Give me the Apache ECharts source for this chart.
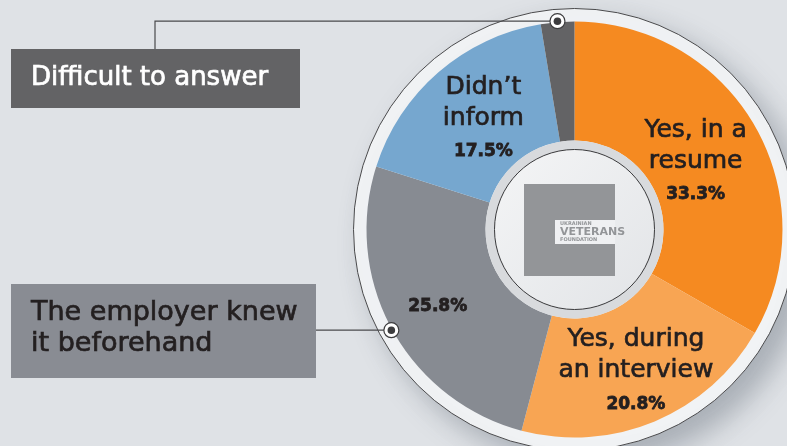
<!DOCTYPE html>
<html>
<head>
<meta charset="utf-8">
<script src="https://cdn.jsdelivr.net/npm/echarts@6/dist/echarts.min.js"></script>
<style>
  html, body { margin: 0; padding: 0; background: #dfe2e6; }
  #chart { width: 787px; height: 446px; }
</style>
</head>
<body>
<div id="chart"></div>
<script>
// Survey answers, clockwise from 12 o'clock
const categories = ['Yes, in a resume', 'Yes, during an interview', 'The employer knew it beforehand', 'Didn\u2019t inform', 'Difficult to answer'];
const values = [33.3, 20.8, 25.8, 17.5, 2.6];
const sliceNames = ['Yes, in a\nresume', 'Yes, during\nan interview', '', 'Didn\u2019t\ninform', null];
const sliceColors = ['#f58a21', '#f8a553', '#878b92', '#76a7cf', '#636365'];
// Nudges for the in-slice labels
const labelNudge = [[-10, 10], [3, 4], [-4, 4], [8, 6], [0, 0]];
// Answers called out in side boxes
const calloutIndex = [4, 2];
const calloutText = ['Difficult to answer', 'The employer knew\nit beforehand'];

const CX = 574.5, CY = 229.5, R_IN = 89, R_OUT = 208;
const total = values.reduce((a, b) => a + b, 0);

function midAngle(i) {
  let cum = 0;
  for (let k = 0; k < i; k++) cum += values[k];
  return ((cum + values[i] / 2) / total) * 2 * Math.PI;
}
function pointAt(i, r) {
  const a = midAngle(i);
  return [CX + r * Math.sin(a), CY - r * Math.cos(a)];
}

const chart = echarts.init(document.getElementById('chart'), null, { renderer: 'canvas' });

const TEXT = '#231f20';
const FONT = '"DejaVu Sans", sans-serif';

const pieData = categories.map((c, i) => ({
  name: c,
  value: values[i],
  itemStyle: { color: sliceColors[i] },
  label: { show: sliceNames[i] !== null, offset: labelNudge[i] }
}));

function marker(p) {
  return [
    { type: 'circle', z: 20, shape: { cx: p[0], cy: p[1], r: 7.5 },
      style: { fill: '#ffffff', stroke: '#3c3c3e', lineWidth: 1.2 } },
    { type: 'circle', z: 21, shape: { cx: p[0], cy: p[1], r: 3.8 },
      style: { fill: '#3c3c3e' } }
  ];
}

const pTop = pointAt(calloutIndex[0], 209);
const pSide = pointAt(calloutIndex[1], 209);

const graphics = [
  // outer ring with drop shadow
  { type: 'circle', z: 0, shape: { cx: CX, cy: CY, r: 221 },
    style: { fill: '#f1f3f5', stroke: '#4a4a4c', lineWidth: 1,
             shadowBlur: 28, shadowOffsetX: 14, shadowOffsetY: 14, shadowColor: 'rgba(70,80,95,0.35)' } },
  // centre hub
  { type: 'circle', z: 10, shape: { cx: CX, cy: CY, r: R_IN },
    style: { fill: '#d8dadd' } },
  { type: 'circle', z: 11, shape: { cx: CX, cy: CY, r: 80 },
    style: {
      fill: new echarts.graphic.LinearGradient(0, 0, 1, 1, [
        { offset: 0, color: '#f4f5f6' }, { offset: 1, color: '#e2e4e7' }
      ]),
      stroke: '#3a3a3c', lineWidth: 1
    } },
  // foundation logo
  { type: 'rect', z: 12, shape: { x: CX - 50.5, y: CY - 45.5, width: 91, height: 92 },
    style: { fill: '#939598' } },
  { type: 'rect', z: 13, shape: { x: CX - 19.5, y: CY - 9.5, width: 60, height: 24 },
    style: { fill: '#eff0f2' } },
  { type: 'text', z: 14, style: { x: CX - 14.5, y: CY - 6, text: 'UKRAINIAN', fill: '#939598',
      font: 'bold 5px ' + FONT, textVerticalAlign: 'middle' } },
  { type: 'text', z: 14, style: { x: CX - 14.5, y: CY + 2.5, text: 'VETERANS', fill: '#939598',
      font: 'bold 11px ' + FONT, textVerticalAlign: 'middle' } },
  { type: 'text', z: 14, style: { x: CX - 14.5, y: CY + 10, text: 'FOUNDATION', fill: '#939598',
      font: 'bold 5px ' + FONT, textVerticalAlign: 'middle' } },
  // callout boxes
  { type: 'rect', z: 5, shape: { x: 11, y: 49, width: 289, height: 59 },
    style: { fill: '#636365' } },
  { type: 'text', z: 6, style: { x: 31, y: 78, text: calloutText[0], fill: '#ffffff',
      stroke: '#ffffff', lineWidth: 0.7, font: '26px ' + FONT, textVerticalAlign: 'middle' } },
  { type: 'rect', z: 5, shape: { x: 11, y: 284, width: 305, height: 94 },
    style: { fill: '#898c93' } },
  { type: 'text', z: 6, style: { x: 31, y: 328, text: calloutText[1], fill: TEXT,
      stroke: TEXT, lineWidth: 0.7, font: '27px ' + FONT, lineHeight: 31, textVerticalAlign: 'middle' } },
  // leader lines
  { type: 'polyline', z: 19, shape: { points: [[155, 49], [155, pTop[1]], [pTop[0], pTop[1]]] },
    style: { stroke: '#4a4a4c', lineWidth: 1.2, fill: null } },
  { type: 'polyline', z: 19, shape: { points: [[316, pSide[1]], [pSide[0], pSide[1]]] },
    style: { stroke: '#4a4a4c', lineWidth: 1.2, fill: null } }
].concat(marker(pTop), marker(pSide));

chart.setOption({
  backgroundColor: '#dfe2e6',
  animation: false,
  graphic: { elements: graphics },
  series: [{
    type: 'pie',
    z: 3,
    center: [CX, CY],
    radius: [R_IN, R_OUT],
    startAngle: 90,
    clockwise: true,
    avoidLabelOverlap: false,
    emphasis: { disabled: true },
    itemStyle: { borderWidth: 0 },
    labelLine: { show: false },
    label: {
      position: 'inside',
      formatter: p => {
        const n = sliceNames[p.dataIndex];
        const pct = '{pct|' + p.value.toFixed(1) + '%}';
        if (!n) return pct;
        return n.split('\n').map(s => '{nm|' + s + '}').join('\n') + '\n' + pct;
      },
      rich: {
        nm: { fontFamily: FONT, fontSize: 25, fontWeight: 'normal', color: TEXT, lineHeight: 31,
              textBorderColor: TEXT, textBorderWidth: 0.7 },
        pct: { fontFamily: FONT, fontSize: 17, fontWeight: 'bold', color: TEXT, lineHeight: 36,
               textBorderColor: TEXT, textBorderWidth: 0.8 }
      }
    },
    data: pieData
  }]
});
</script>
</body>
</html>
